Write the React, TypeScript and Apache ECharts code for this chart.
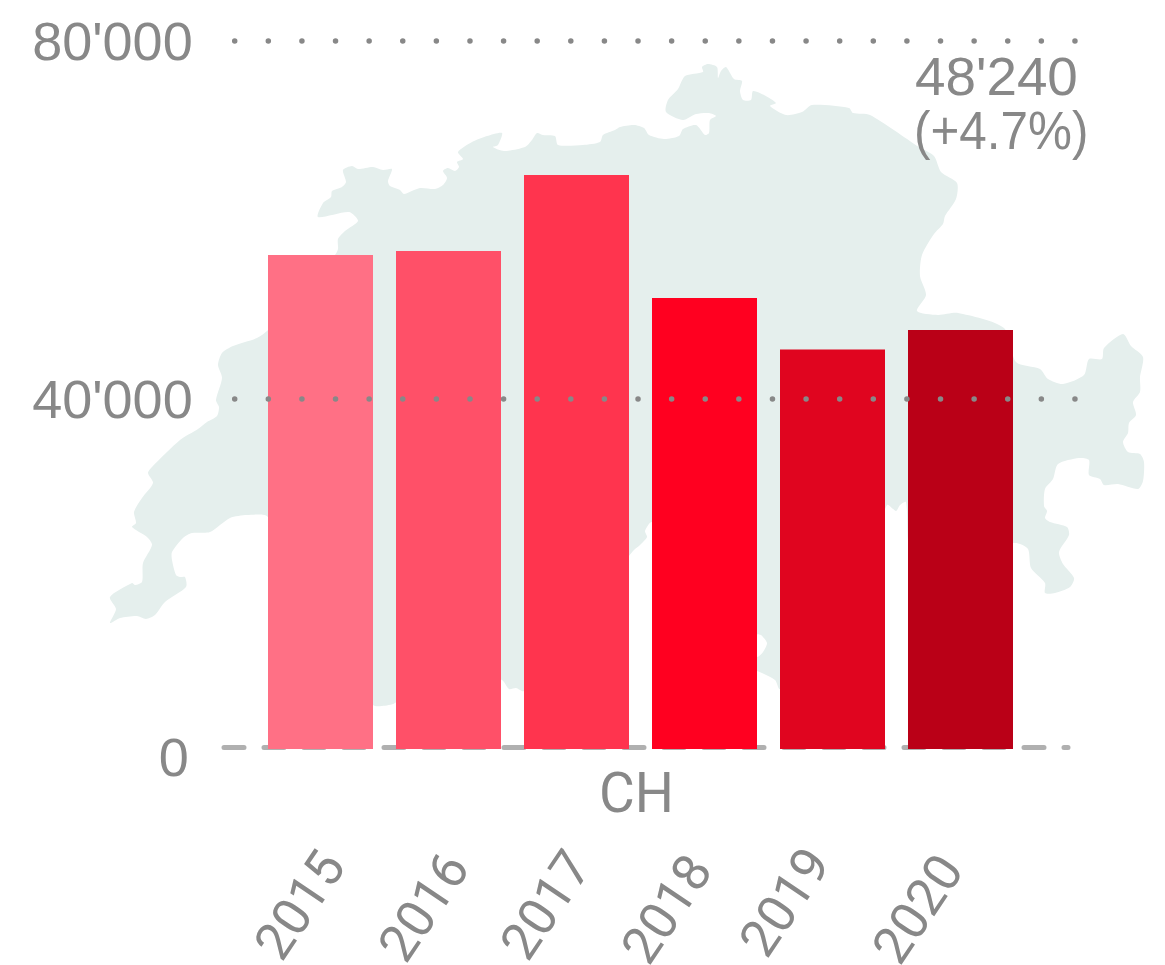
import React, { useEffect, useRef } from "react";
import * as echarts from "echarts";

const years = ["2015", "2016", "2017", "2018", "2019", "2020"];
const values = [56875, 57335, 66084, 51923, 46000, 48240];
const barColors = ["#ff7085", "#ff5068", "#ff344e", "#ff0020", "#e0051f", "#ba0017"];
const yTicks = [0, 40000, 80000];
const GREY = "#888888";

const yearLabelCentres: [number, number][] = [
  [300, 905], [424, 907], [546, 905], [667, 909], [785, 902], [918, 909],
];

const mapOutline: number[][] = [
  [110,623],[116,609],[110,597],[132,583],[135,585],[142,582],[143,563],[152,545],[147,537],[132,527],[136,523],[134,512],[142,498],[153,483],[148,473],[152,467],[180,440],[198,429],[207,422],[217,416],[219,407],[216,400],[222,378],[218,365],[222,353],[233,346],[257,338],[268,330],
  [335,255],[338,249],[338,239],[345,231],[358,221],[349,212],[318,217],[323,203],[331,197],[332,191],[342,187],[346,182],[343,170],[352,166],[358,169],[373,167],[383,170],[392,169],[388,181],[390,186],[400,190],[404,194],[420,188],[435,189],[443,185],[447,178],[443,171],[448,168],[455,171],[459,167],[457,162],[463,159],[458,152],[472,142],[487,136],[502,133],[498,145],[493,147],[504,151],[525,147],[532,140],[537,133],[543,135],[555,136],[558,145],[583,145],[600,142],[603,135],[615,130],[620,127],
  [634,125],[644,128],[649,135],[664,139],[679,136],[683,129],[696,125],[705,135],[709,133],[710,120],[716,116],[709,113],[696,114],[683,120],[666,112],[668,100],[678,89],[685,76],[703,72],[702,67],[708,64],[717,67],[718,78],[721,71],[726,67],[734,79],[742,81],[740,91],[743,100],[751,100],[753,91],[764,95],[776,103],[770,106],[786,115],[802,112],[812,105],[849,108],[853,113],[870,115],[919,147],[934,156],[941,172],[957,183],[956,199],[945,216],[943,224],[934,234],[922,255],[920,276],[926,295],[917,311],[938,315],[958,313],[1004,328],
  [1016,362],[1040,369],[1048,379],[1063,384],[1084,375],[1089,359],[1102,359],[1104,348],[1123,334],[1131,346],[1143,357],[1140,377],[1140,392],[1133,402],[1136,415],[1129,423],[1128,433],[1123,442],[1128,452],[1140,454],[1144,462],[1143,481],[1138,489],[1118,484],[1104,485],[1100,479],[1089,475],[1089,460],[1079,458],[1058,464],[1053,479],[1045,489],[1044,506],[1047,511],[1045,518],[1050,522],[1067,527],[1069,535],[1059,552],[1063,564],[1074,578],[1070,587],[1055,593],[1045,593],[1045,583],[1031,568],[1028,549],[1016,543],
  [910,543],[908,541],[906,502],[900,505],[896,511],[887,505],[850,600],[780,689],[775,680],[757,671],[700,650],[757,657],[763,652],[767,643],[761,635],[757,634],[700,540],[652,522],[645,531],[647,537],[640,545],[634,550],[629,556],[570,640],[524,691],[516,688],[509,689],[502,680],[450,660],[395,703],[382,706],[373,705],[330,640],
  [268,517],[247,515],[230,518],[210,532],[192,533],[183,538],[172,552],[172,560],[176,575],[180,577],[185,577],[186,587],[165,602],[155,615],[146,619],[137,616],[120,618],
];

const fmt = (v: number) => String(v).replace(/\B(?=(\d{3})+$)/g, "'");

export default function App() {
  const ref = useRef<HTMLDivElement>(null);
  useEffect(() => {
    const chart = echarts.init(ref.current!, undefined, { renderer: "svg" });
    chart.setOption({
      animation: false,
      backgroundColor: "#ffffff",
      grid: [
        { left: 234.7, right: 1165 - 1076, top: 41, height: 716 },
        { left: 256.5, width: 768, top: 41, height: 708 },
        { left: 224, right: 1165 - 1068, top: 41, height: 706.5 },
      ],
      xAxis: [
        { gridIndex: 0, type: "value", show: false, min: 0, max: 1 },
        {
          gridIndex: 1, type: "category", data: years,
          axisLine: { show: false }, axisTick: { show: false }, axisLabel: { show: false },
        },
        {
          gridIndex: 2, type: "value", min: 0, max: 1, z: 1,
          axisLine: { show: true, lineStyle: { color: "#b0b0b0", width: 5, type: [20, 20] } },
          axisTick: { show: false }, axisLabel: { show: false }, splitLine: { show: false },
        },
      ],
      yAxis: [
        {
          gridIndex: 0, type: "value", min: 0, max: 80000, interval: 40000, z: 3,
          axisLine: { show: false }, axisTick: { show: false },
          axisLabel: {
            margin: 42, color: GREY, fontSize: 54, fontFamily: "Liberation Sans",
            formatter: (v: number) => (v === 0 ? "{zero|0}" : yTicks.includes(v) ? fmt(v) : ""),
            rich: { zero: { color: GREY, fontSize: 54, fontFamily: "Liberation Sans", padding: [0, 4, 0, 0] } },
          },
          splitLine: {
            show: true, showMinLine: false,
            lineStyle: { color: GREY, width: 5.5, type: [0.01, 33.6], cap: "round" },
          },
        },
        { gridIndex: 1, type: "value", min: 0, max: 81510, show: false, splitLine: { show: false } },
        { gridIndex: 2, type: "value", min: 0, max: 1, show: false, splitLine: { show: false } },
      ],
      series: [
        {
          type: "bar", xAxisIndex: 1, yAxisIndex: 1, barWidth: 105, z: 2,
          data: values.map((v, i) => ({ value: v, itemStyle: { color: barColors[i] } })),
        },
      ],
      graphic: [
        {
          type: "polygon", silent: true,
          shape: { points: mapOutline, smooth: 0.25 },
          style: { fill: "#e5efed", stroke: "none" },
        },
        {
          type: "text", x: 915, y: 76.5, scaleX: 1.015,
          style: { text: fmt(values[5]), fill: GREY, font: "54px 'Liberation Sans'", align: "left", verticalAlign: "middle" },
        },
        {
          type: "text", x: 914, y: 130, scaleX: 0.915,
          style: { text: "(+4.7%)", fill: GREY, font: "54px 'Liberation Sans'", align: "left", verticalAlign: "middle" },
        },
        {
          type: "text", x: 636.5, y: 793,
          style: { text: "CH", fill: GREY, font: "55px Roboto", align: "center", verticalAlign: "middle" },
        },
        ...years.map((y, i) => ({
          type: "text",
          x: yearLabelCentres[i][0],
          y: yearLabelCentres[i][1],
          rotation: (56 * Math.PI) / 180,
          style: { text: y, fill: GREY, font: "52px Roboto", align: "center", verticalAlign: "middle" },
        })),
      ],
    });
    return () => chart.dispose();
  }, []);
  return <div ref={ref} style={{ position: "absolute", left: 0, top: 0, width: 1165, height: 965 }} />;
}
